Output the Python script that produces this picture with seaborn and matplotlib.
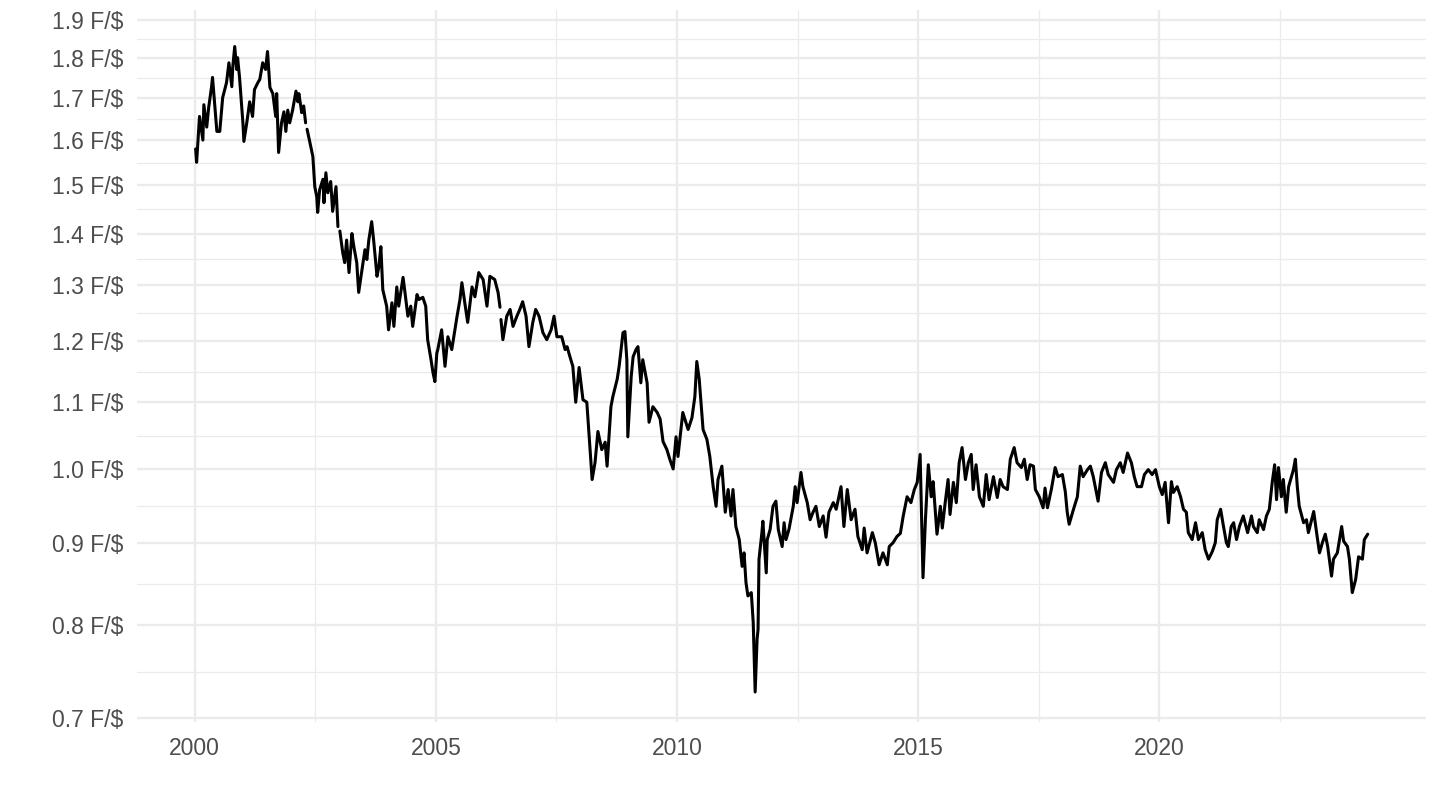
import numpy as np
import pandas as pd
import matplotlib
matplotlib.use("Agg")
import matplotlib.pyplot as plt
import seaborn as sns
from matplotlib.ticker import FixedLocator, FixedFormatter, NullFormatter

# Years since 2000 (decimal) and USD/CHF rate (F/$); NaN marks gaps in the series
years_offset = [
    0.02, 0.04, 0.10, 0.17, 0.19, 0.25, 0.29, 0.35, 0.37, 0.46, 0.52, 0.58, 0.66, 0.71, 0.77, 0.79,
    0.83, 0.87, 0.89, 0.93, 1.00, 1.02, 1.08, 1.14, 1.20, 1.24, 1.31, 1.35, 1.41, 1.47, 1.51, 1.56,
    1.62, 1.68, 1.70, 1.74, 1.80, 1.85, 1.89, 1.93, 1.97, 2.03, 2.10, 2.14, 2.16, 2.22, 2.26, 2.30,
    2.32, 2.33, 2.39, 2.45, 2.49, 2.53, 2.55, 2.59, 2.66, 2.68, 2.72, 2.76, 2.82, 2.86, 2.93, 2.97,
    2.99, 3.01, 3.07, 3.11, 3.15, 3.20, 3.26, 3.30, 3.36, 3.40, 3.46, 3.53, 3.57, 3.61, 3.67, 3.71,
    3.78, 3.82, 3.86, 3.90, 3.98, 4.02, 4.09, 4.13, 4.19, 4.23, 4.32, 4.36, 4.42, 4.48, 4.52, 4.61,
    4.65, 4.73, 4.79, 4.83, 4.90, 4.94, 4.98, 5.02, 5.04, 5.12, 5.19, 5.25, 5.33, 5.44, 5.50, 5.54,
    5.60, 5.66, 5.75, 5.81, 5.89, 5.98, 6.06, 6.12, 6.22, 6.29, 6.33, 6.34, 6.35, 6.39, 6.47, 6.54,
    6.60, 6.68, 6.74, 6.80, 6.87, 6.93, 7.01, 7.07, 7.14, 7.22, 7.30, 7.39, 7.45, 7.51, 7.61, 7.68,
    7.72, 7.78, 7.84, 7.90, 7.97, 8.05, 8.13, 8.15, 8.24, 8.30, 8.36, 8.44, 8.51, 8.55, 8.63, 8.67,
    8.76, 8.80, 8.88, 8.92, 8.96, 8.98, 9.05, 9.09, 9.15, 9.19, 9.25, 9.29, 9.38, 9.42, 9.50, 9.59,
    9.65, 9.71, 9.79, 9.85, 9.92, 9.98, 10.02, 10.12, 10.23, 10.31, 10.37, 10.41, 10.46, 10.54, 10.62, 10.68,
    10.75, 10.81, 10.85, 10.93, 11.00, 11.06, 11.12, 11.16, 11.22, 11.29, 11.35, 11.39, 11.43, 11.47, 11.54, 11.58,
    11.62, 11.66, 11.68, 11.70, 11.76, 11.78, 11.85, 11.87, 11.93, 11.99, 12.05, 12.10, 12.18, 12.22, 12.26, 12.32,
    12.41, 12.45, 12.49, 12.57, 12.61, 12.70, 12.76, 12.82, 12.88, 12.95, 13.03, 13.09, 13.15, 13.24, 13.30, 13.40,
    13.46, 13.53, 13.61, 13.69, 13.75, 13.84, 13.88, 13.94, 14.05, 14.11, 14.19, 14.27, 14.36, 14.40, 14.48, 14.56,
    14.63, 14.69, 14.77, 14.85, 14.92, 14.98, 15.04, 15.10, 15.15, 15.21, 15.27, 15.31, 15.39, 15.46, 15.50, 15.56,
    15.62, 15.66, 15.73, 15.79, 15.85, 15.91, 15.98, 16.04, 16.10, 16.14, 16.20, 16.27, 16.35, 16.41, 16.47, 16.56,
    16.64, 16.70, 16.76, 16.85, 16.91, 16.99, 17.05, 17.14, 17.20, 17.26, 17.32, 17.39, 17.43, 17.51, 17.59, 17.63,
    17.68, 17.76, 17.84, 17.90, 17.99, 18.05, 18.09, 18.13, 18.22, 18.30, 18.36, 18.42, 18.51, 18.57, 18.63, 18.73,
    18.80, 18.88, 18.94, 19.05, 19.11, 19.19, 19.25, 19.34, 19.42, 19.48, 19.54, 19.63, 19.69, 19.77, 19.85, 19.92,
    20.00, 20.06, 20.12, 20.19, 20.25, 20.29, 20.37, 20.44, 20.50, 20.56, 20.60, 20.68, 20.75, 20.81, 20.89, 20.95,
    21.02, 21.10, 21.16, 21.20, 21.27, 21.33, 21.39, 21.43, 21.49, 21.54, 21.60, 21.66, 21.74, 21.83, 21.91, 21.95,
    22.03, 22.07, 22.16, 22.22, 22.28, 22.34, 22.39, 22.43, 22.47, 22.53, 22.57, 22.63, 22.68, 22.74, 22.78, 22.82,
    22.86, 22.90, 22.99, 23.05, 23.09, 23.20, 23.26, 23.32, 23.38, 23.44, 23.49, 23.57, 23.61, 23.69, 23.78, 23.82,
    23.90, 23.94, 24.00, 24.07, 24.13, 24.21, 24.25, 24.32,
]
rate = [
    1.580, 1.550, 1.655, 1.600, 1.683, 1.630, 1.676, 1.727, 1.750, 1.620, 1.620, 1.700, 1.737, 1.787, 1.727, 1.777,
    1.829, 1.770, 1.800, 1.750, 1.640, 1.597, 1.640, 1.690, 1.655, 1.720, 1.737, 1.745, 1.787, 1.770, 1.816, 1.725,
    1.710, 1.655, 1.710, 1.572, 1.640, 1.666, 1.620, 1.670, 1.640, 1.670, 1.716, 1.690, 1.710, 1.664, 1.680, 1.640,
    np.nan, 1.625, 1.594, 1.563, 1.497, 1.476, 1.443, 1.490, 1.513, 1.463, 1.527, 1.484, 1.508, 1.445, 1.497, 1.414,
    np.nan, 1.405, 1.362, 1.343, 1.387, 1.324, 1.400, 1.374, 1.343, 1.287, 1.324, 1.368, 1.349, 1.387, 1.424, 1.387,
    1.317, 1.336, 1.374, 1.292, 1.262, 1.220, 1.268, 1.226, 1.297, 1.262, 1.315, 1.287, 1.244, 1.262, 1.226, 1.283,
    1.274, 1.278, 1.262, 1.203, 1.169, 1.148, 1.133, 1.180, 1.186, 1.220, 1.158, 1.208, 1.186, 1.244, 1.274, 1.305,
    1.268, 1.233, 1.297, 1.279, 1.324, 1.311, 1.262, 1.317, 1.311, 1.287, 1.260, np.nan, 1.238, 1.203, 1.244, 1.256,
    1.226, 1.244, 1.256, 1.270, 1.244, 1.191, 1.233, 1.256, 1.244, 1.215, 1.203, 1.220, 1.244, 1.208, 1.208, 1.186,
    1.191, 1.174, 1.158, 1.100, 1.156, 1.104, 1.100, 1.078, 0.985, 1.009, 1.055, 1.028, 1.039, 1.004, 1.093, 1.109,
    1.137, 1.158, 1.215, 1.217, 1.169, 1.047, 1.141, 1.174, 1.186, 1.191, 1.131, 1.169, 1.131, 1.069, 1.093, 1.084,
    1.074, 1.040, 1.028, 1.014, 1.000, 1.047, 1.018, 1.084, 1.058, 1.076, 1.109, 1.166, 1.137, 1.058, 1.043, 1.018,
    0.975, 0.948, 0.985, 1.004, 0.940, 0.971, 0.935, 0.971, 0.921, 0.904, 0.870, 0.887, 0.850, 0.834, 0.838, 0.803,
    0.727, 0.784, 0.795, 0.879, 0.913, 0.928, 0.862, 0.904, 0.917, 0.948, 0.955, 0.917, 0.895, 0.926, 0.904, 0.917,
    0.948, 0.975, 0.953, 0.995, 0.975, 0.953, 0.930, 0.940, 0.948, 0.921, 0.935, 0.907, 0.940, 0.953, 0.944, 0.975,
    0.921, 0.971, 0.930, 0.944, 0.908, 0.891, 0.919, 0.887, 0.913, 0.900, 0.872, 0.887, 0.872, 0.895, 0.900, 0.908,
    0.912, 0.935, 0.961, 0.953, 0.971, 0.981, 1.021, 0.856, 0.930, 1.006, 0.961, 0.982, 0.911, 0.948, 0.919, 0.953,
    0.985, 0.937, 0.981, 0.953, 1.009, 1.031, 0.985, 1.009, 1.021, 0.971, 1.006, 0.961, 0.948, 0.992, 0.957, 0.989,
    0.960, 0.985, 0.975, 0.971, 1.014, 1.031, 1.009, 1.002, 1.014, 0.985, 1.006, 1.004, 0.971, 0.961, 0.946, 0.973,
    0.946, 0.971, 1.002, 0.989, 0.992, 0.968, 0.940, 0.924, 0.944, 0.961, 1.004, 0.989, 0.999, 1.004, 0.989, 0.955,
    0.995, 1.009, 0.992, 0.981, 0.999, 1.009, 0.995, 1.023, 1.009, 0.989, 0.975, 0.975, 0.992, 0.999, 0.992, 0.999,
    0.975, 0.964, 0.981, 0.926, 0.982, 0.967, 0.975, 0.961, 0.944, 0.940, 0.913, 0.904, 0.926, 0.904, 0.913, 0.891,
    0.879, 0.889, 0.900, 0.930, 0.944, 0.921, 0.900, 0.895, 0.921, 0.926, 0.904, 0.921, 0.935, 0.913, 0.935, 0.921,
    0.913, 0.930, 0.917, 0.935, 0.944, 0.981, 1.006, 0.957, 1.002, 0.961, 0.985, 0.940, 0.975, 0.989, 0.999, 1.014,
    0.975, 0.948, 0.926, 0.930, 0.913, 0.941, 0.913, 0.887, 0.900, 0.911, 0.895, 0.858, 0.879, 0.887, 0.921, 0.902,
    0.895, 0.879, 0.838, 0.854, 0.882, 0.879, 0.904, 0.911,
]
base_year = 2000
x_tick_years = [2000, 2005, 2010, 2015, 2020]
y_tick_values = [0.7, 0.8, 0.9, 1.0, 1.1, 1.2, 1.3, 1.4, 1.5, 1.6, 1.7, 1.8, 1.9]
y_unit = "F/$"

df = pd.DataFrame({"year": np.array(years_offset) + base_year, "rate": rate})
df["seg"] = df["rate"].isna().cumsum()
df = df.dropna().reset_index(drop=True)

sns.set_theme(style="white")
plt.rcParams["font.family"] = ["Liberation Sans", "DejaVu Sans"]

fig = plt.figure(figsize=(14.4, 8.1), dpi=100)
ax = fig.add_axes([0.095, 88 / 810, 0.895, 712 / 810])

grid_c = "#EBEBEB"
ax.set_yscale("log")
ax.set_ylim(0.6965, 1.927)
ax.set_xlim(1998.80, 2025.52)

# gridlines (major thicker, minor thinner, ggplot-like)
minor_y = [np.sqrt(a * b) for a, b in zip(y_tick_values[:-1], y_tick_values[1:])]
for v in minor_y:
    ax.axhline(v, color=grid_c, lw=0.9, zorder=0)
for v in y_tick_values:
    ax.axhline(v, color=grid_c, lw=1.7, zorder=0)
minor_x = [t + 2.5 for t in x_tick_years]
for v in minor_x:
    ax.axvline(v, color=grid_c, lw=0.9, zorder=0)
for v in x_tick_years:
    ax.axvline(v, color=grid_c, lw=1.7, zorder=0)

sns.lineplot(data=df, x="year", y="rate", units="seg", estimator=None,
             color="black", linewidth=2.2, ax=ax, zorder=3)

ax.yaxis.set_major_locator(FixedLocator(y_tick_values))
ax.yaxis.set_major_formatter(FixedFormatter([f"{v:.1f} {y_unit}" for v in y_tick_values]))
ax.yaxis.set_minor_locator(FixedLocator([]))
ax.yaxis.set_minor_formatter(NullFormatter())
ax.xaxis.set_major_locator(FixedLocator(x_tick_years))
ax.xaxis.set_major_formatter(FixedFormatter([str(v) for v in x_tick_years]))

ax.tick_params(axis="both", length=0, labelsize=16.5, labelcolor="#4D4D4D")
ax.tick_params(axis="y", pad=10)
ax.tick_params(axis="x", pad=11)
ax.set_xlabel("")
ax.set_ylabel("")
for s in ax.spines.values():
    s.set_visible(False)
ax.grid(False)

fig.savefig("out.png", dpi=100, facecolor="white")
